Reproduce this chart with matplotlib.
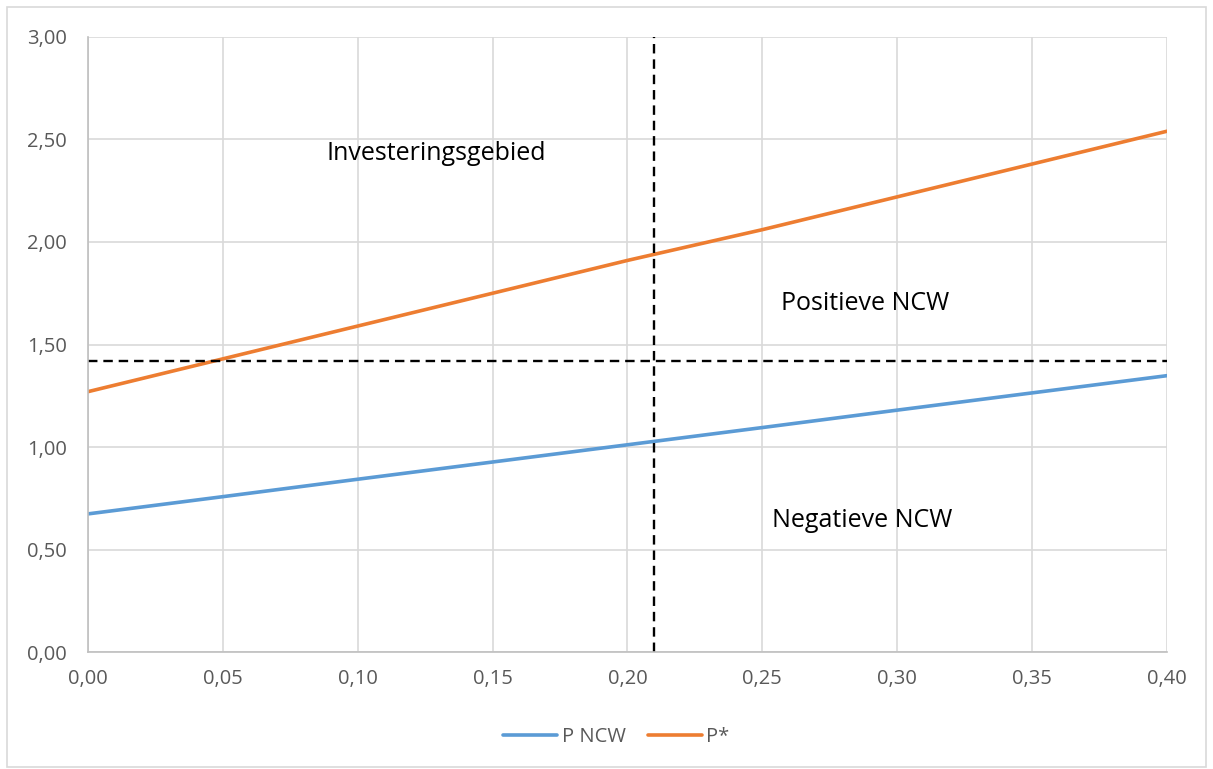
import numpy as np
import matplotlib
matplotlib.use("Agg")
import matplotlib.pyplot as plt
from matplotlib.patches import Rectangle

plt.rcParams['font.family'] = ['Open Sans', 'DejaVu Sans']

# data
x_vals = [0.00, 0.05, 0.10, 0.15, 0.20, 0.25, 0.30, 0.35, 0.40]
p_ncw = [0.674, 0.758, 0.843, 0.927, 1.011, 1.095, 1.180, 1.264, 1.348]
p_star = [1.27, 1.43, 1.59, 1.75, 1.91, 2.06, 2.22, 2.38, 2.54]
h_line = 1.42
v_line = 0.21
x_ticks = [0.00, 0.05, 0.10, 0.15, 0.20, 0.25, 0.30, 0.35, 0.40]
y_ticks = [0.00, 0.50, 1.00, 1.50, 2.00, 2.50, 3.00]

fig = plt.figure(figsize=(12.13, 7.69), dpi=100)
ax = fig.add_axes([0.0725, 0.152, 0.8895, 0.8])

# outer chart border
fig.patches.append(Rectangle((7 / 1213, 2 / 769), 1 - 14 / 1213, 1 - 9 / 769,
                             transform=fig.transFigure, fill=False,
                             edgecolor='#d9d9d9', linewidth=1.2))

ax.plot(x_vals, p_ncw, color='#5b9bd5', lw=2.6, label='P NCW', solid_capstyle='round')
ax.plot(x_vals, p_star, color='#ed7d31', lw=2.6, label='P*', solid_capstyle='round')
ax.axhline(h_line, color='black', lw=1.7, ls=(0, (4, 2.5)))
ax.axvline(v_line, color='black', lw=1.7, ls=(0, (4, 2.5)))

ax.text(0.129, 2.43, 'Investeringsgebied', fontsize=18, ha='center', va='center')
ax.text(0.288, 1.70, 'Positieve NCW', fontsize=18, ha='center', va='center')
ax.text(0.287, 0.64, 'Negatieve NCW', fontsize=18, ha='center', va='center')

ax.set_xlim(0, 0.40)
ax.set_ylim(0, 3.0)
ax.set_xticks(x_ticks)
ax.set_yticks(y_ticks)
ax.set_xticklabels([f'{v:.2f}'.replace('.', ',') for v in x_ticks])
ax.set_yticklabels([f'{v:.2f}'.replace('.', ',') for v in y_ticks])
ax.tick_params(length=0, labelsize=14.5, labelcolor='#595959', pad=12)
ax.tick_params(axis='y', pad=15)
ax.grid(color='#d9d9d9', lw=1.2)
ax.set_axisbelow(True)
for side in ['top', 'right']:
    ax.spines[side].set_visible(False)
for side in ['left', 'bottom']:
    ax.spines[side].set_color('#bfbfbf')
    ax.spines[side].set_linewidth(1.2)

leg = fig.legend(loc='center', bbox_to_anchor=(0.508, 0.042), ncol=2, frameon=False,
                 fontsize=14.5, handlelength=2.7, columnspacing=1.1, handletextpad=0.2)
for t in leg.get_texts():
    t.set_color('#595959')

fig.savefig('out.png', dpi=100)
